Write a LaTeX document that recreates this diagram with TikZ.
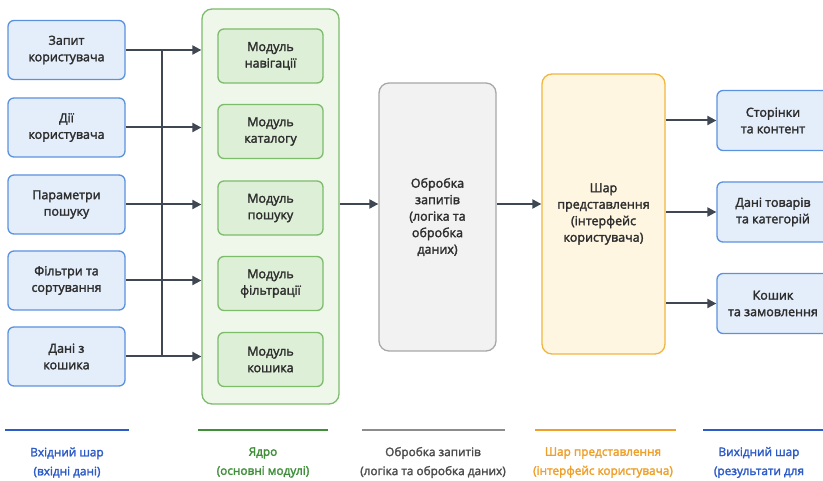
\documentclass[tikz,border=0pt]{standalone}
\usepackage{fontspec}
\setmainfont{Open Sans}
\newfontfamily\medfont{Open Sans}[FakeBold=2.2]
\usetikzlibrary{arrows.meta}
\definecolor{txt}{HTML}{2E2E2E}
\definecolor{bluefill}{HTML}{E4EEFB}
\definecolor{blueline}{HTML}{5B92DF}
\definecolor{greenfill}{HTML}{EFF7EB}
\definecolor{greenline}{HTML}{7CBC6B}
\definecolor{modfill}{HTML}{DDEFD6}
\definecolor{grayfill}{HTML}{F2F2F2}
\definecolor{grayline}{HTML}{A8A8A8}
\definecolor{yelfill}{HTML}{FFF6E2}
\definecolor{yelline}{HTML}{F0B63E}
\definecolor{arrowc}{HTML}{3F4752}
\definecolor{legblue}{HTML}{2D5BC8}
\definecolor{leggreen}{HTML}{3F8F3A}
\definecolor{leggray}{HTML}{8C8C8C}
\definecolor{legorange}{HTML}{EFA02A}
\tikzset{
  base/.style={inner sep=0pt, align=center, text=txt, font=\medfont\fontsize{12.5}{16.5}\selectfont, line width=1.3pt},
  inbox/.style={base, draw=blueline, fill=bluefill, rounded corners=6pt, minimum width=117pt, minimum height=59pt},
  outbox/.style={base, draw=blueline, fill=bluefill, rounded corners=6pt, minimum width=112pt, minimum height=60pt},
  corebox/.style={base, draw=greenline, fill=greenfill, rounded corners=10pt, minimum width=137pt, minimum height=395pt},
  modbox/.style={base, draw=greenline, fill=modfill, rounded corners=6pt, minimum width=105pt, minimum height=54pt},
  procbox/.style={base, draw=grayline, fill=grayfill, rounded corners=10pt, minimum width=117pt, minimum height=268pt},
  presbox/.style={base, draw=yelline, fill=yelfill, rounded corners=10pt, minimum width=123pt, minimum height=280pt},
  conn/.style={draw=arrowc, line width=2pt},
  arr/.style={conn, -{Triangle[length=9pt,width=9pt]}},
  legline/.style={line width=1.6pt},
  legtext/.style={inner sep=0pt, align=center, font=\medfont\fontsize{11.8}{19}\selectfont},
}
\begin{document}
\begin{tikzpicture}[x=1pt,y=-1pt]
\useasboundingbox (0,0) rectangle (823,481);
\clip (0,0) rectangle (823,481);
\fill[white] (0,0) rectangle (823,481);

% input layer
\node[inbox] (in1) at (66.5,50) {Запит\\користувача};
\node[inbox] (in2) at (66.5,127.5) {Дії\\користувача};
\node[inbox] (in3) at (66.5,204.5) {Параметри\\пошуку};
\node[inbox] (in4) at (66.5,280.5) {Фільтри та\\сортування};
\node[inbox] (in5) at (66.5,356.5) {Дані з\\кошика};

% core
\node[corebox] (core) at (270.5,206.5) {};
\node[modbox] (m1) at (270.5,56) {Модуль\\навігації};
\node[modbox] (m2) at (270.5,131.5) {Модуль\\каталогу};
\node[modbox] (m3) at (270.5,208) {Модуль\\пошуку};
\node[modbox] (m4) at (270.5,283.5) {Модуль\\фільтрації};
\node[modbox] (m5) at (270.5,359.5) {Модуль\\кошика};

% processing and presentation
\node[procbox] (proc) at (437.5,217) {Обробка\\запитів\\(логіка та\\обробка\\даних)};
\node[presbox] (pres) at (603.5,214) {Шар\\представлення\\(інтерфейс\\користувача)};

% outputs
\node[outbox] (out1) at (773,120.5) {Сторінки\\та контент};
\node[outbox] (out2) at (773,212) {Дані товарів\\та категорій};
\node[outbox] (out3) at (773,303.5) {Кошик\\та замовлення};

% input connectors
\coordinate (bustop) at (162,50);
\coordinate (busbot) at (162,356.5);
\draw[conn] (bustop) -- (busbot);
\foreach \i in {1,...,5}{
  \draw[arr] (in\i.east) -- (core.west |- in\i.east);
}

% core -> processing -> presentation
\coordinate (flow) at (0,204);
\draw[arr] (core.east |- flow) -- (proc.west |- flow);
\draw[arr] (proc.east |- flow) -- (pres.west |- flow);

% presentation -> outputs
\foreach \i in {1,2,3}{
  \draw[arr] (pres.east |- out\i.west) -- (out\i.west);
}

% legend
\coordinate (l1a) at (5,430);   \coordinate (l1b) at (129,430);
\coordinate (l2a) at (198,430); \coordinate (l2b) at (328,430);
\coordinate (l3a) at (362,430); \coordinate (l3b) at (505,430);
\coordinate (l4a) at (535,430); \coordinate (l4b) at (676,430);
\coordinate (l5a) at (703,430); \coordinate (l5b) at (830,430);
\draw[legline, legblue] (l1a) -- (l1b);
\draw[legline, leggreen] (l2a) -- (l2b);
\draw[legline, leggray] (l3a) -- (l3b);
\draw[legline, legorange] (l4a) -- (l4b);
\draw[legline, legblue] (l5a) -- (l5b);
\node[legtext, text=legblue] (t1) at (67,462.5) {Вхідний шар\\(вхідні дані)};
\node[legtext, text=leggreen] (t2) at (263,462.5) {Ядро\\(основні модулі)};
\node[legtext, text=txt!85] (t3) at (433,462.5) {Обробка запитів\\(логіка та обробка даних)};
\node[legtext, text=legorange] (t4) at (603,462.5) {Шар представлення\\(інтерфейс користувача)};
\node[legtext, text=legblue] (t5) at (759,462.5) {Вихідний шар\\(результати для};
\end{tikzpicture}
\end{document}
